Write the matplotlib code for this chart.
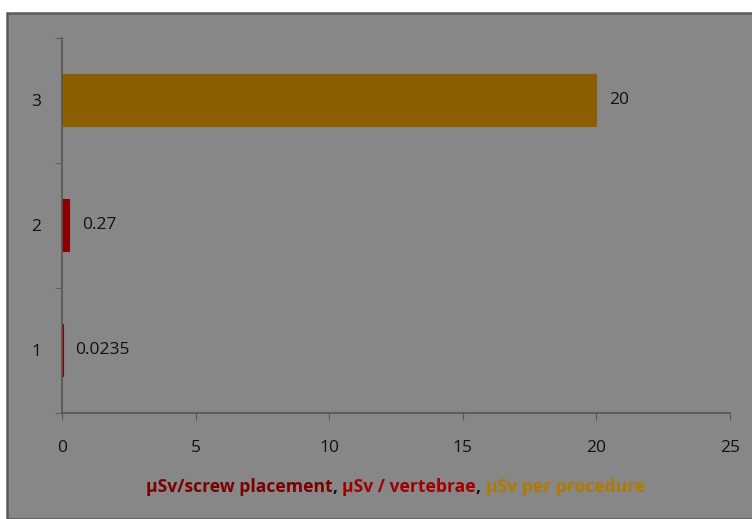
import matplotlib.pyplot as plt
from matplotlib.patches import Rectangle

categories = ['1', '2', '3']
values = [0.0235, 0.27, 20]
value_labels = ['0.0235', '0.27', '20']
bar_colors = ['#8b0000', '#8b0000', '#8b5e00']
label_parts = ['µSv/screw placement', ', ', 'µSv / vertebrae', ', ', 'µSv per procedure']
label_colors = ['#7a0000', '#111111', '#a00000', '#111111', '#b07a00']

plt.rcParams['font.family'] = ['Open Sans', 'DejaVu Sans']

fig = plt.figure(figsize=(7.52, 5.19), dpi=100)
fig.patch.set_facecolor('white')
W, H = 752, 519
bg = Rectangle((7 / W, 0), 1, (H - 13) / H, transform=fig.transFigure,
               facecolor='#878787', edgecolor='#5a5a5a', linewidth=1.8, zorder=-10)
fig.patches.append(bg)

ax = fig.add_axes([62 / W, (H - 412.5) / H, (730 - 62) / W, 375 / H])
ax.patch.set_alpha(0)

y = range(1, len(categories) + 1)
ax.barh(list(y), values, height=0.41, color=bar_colors, edgecolor=bar_colors, linewidth=0.8)
for yi, v, t in zip(y, values, value_labels):
    ax.annotate(t, (v, yi), xytext=(9, 0), textcoords='offset points',
                va='center', ha='left', fontsize=12.5, color='#111111')

ax.set_xlim(0, 25)
ax.set_ylim(0.5, 3.5)
ax.set_xticks([0, 5, 10, 15, 20, 25])
ax.set_yticks(list(y))
ax.set_yticklabels(categories)
ax.set_yticks([0.5, 1.5, 2.5, 3.5], minor=True)
ax.tick_params(axis='y', which='major', length=0, pad=15, labelsize=12.5, labelcolor='#111111')
ax.tick_params(axis='y', which='minor', length=5, color='#555555')
ax.tick_params(axis='x', length=5, color='#555555', pad=15, labelsize=12.5, labelcolor='#111111')
for s in ['top', 'right']:
    ax.spines[s].set_visible(False)
for s in ['left', 'bottom']:
    ax.spines[s].set_color('#555555')
    ax.spines[s].set_linewidth(1.2)

# multi-coloured axis title, pieces placed one after another
prev = fig.text(146 / W, (H - 487) / H, label_parts[0], color=label_colors[0],
                fontsize=12.6, fontweight='bold', va='center', ha='left')
for part, c in zip(label_parts[1:], label_colors[1:]):
    prev = ax.annotate(part, xy=(1, 0), xycoords=prev, va='bottom', ha='left',
                       color=c, fontsize=12.6, fontweight='bold', annotation_clip=False)

fig.savefig('out.png', dpi=100)
